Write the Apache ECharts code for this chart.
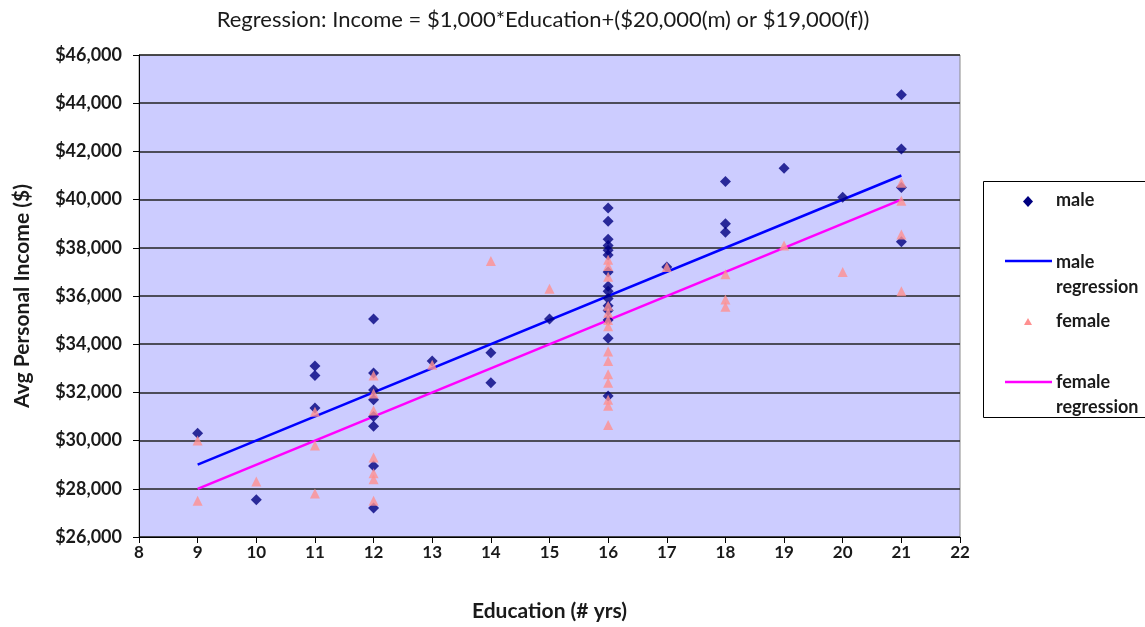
<!DOCTYPE html>
<html>
<head>
<meta charset="utf-8">
<script src="https://cdn.jsdelivr.net/npm/echarts@6/dist/echarts.min.js"></script>
<style>
html,body{margin:0;padding:0;background:#fff;}
#chart{width:1145px;height:627px;}
</style>
</head>
<body>
<div id="chart"></div>
<script>
// ---- data ----
var titleText = 'Regression: Income = $1,000*Education+($20,000(m) or $19,000(f))';
var xName = 'Education (# yrs)';
var yName = 'Avg Personal Income ($)';

var maleEdu = [9, 10, 11, 11, 11, 12, 12, 12, 12, 12, 12, 12, 12, 13, 14, 14, 15,
  16, 16, 16, 16, 16, 16, 16, 16, 16, 16, 16, 16, 16, 16, 16,
  17, 18, 18, 18, 19, 20, 21, 21, 21, 21];
var maleIncome = [30300, 27550, 33100, 32700, 31350, 35050, 32800, 32100, 31700, 31000, 30600, 28950, 27200, 33300, 33650, 32400, 35050,
  39650, 39100, 38350, 38100, 37900, 37700, 37000, 36400, 36200, 35900, 35600, 35400, 35000, 34250, 31850,
  37200, 40750, 39000, 38650, 41300, 40100, 44350, 42100, 40500, 38250];

var femaleEdu = [9, 9, 10, 11, 11, 11, 12, 12, 12, 12, 12, 12, 12, 13, 14, 15,
  16, 16, 16, 16, 16, 16, 16, 16, 16, 16, 16, 16, 16, 16,
  17, 18, 18, 18, 19, 20, 21, 21, 21, 21];
var femaleIncome = [30000, 27500, 28300, 31200, 29800, 27800, 32700, 31950, 31250, 29300, 28650, 28400, 27500, 33150, 37450, 36300,
  37500, 37250, 36800, 35600, 35300, 35000, 34750, 33700, 33300, 32750, 32400, 31700, 31450, 30650,
  37200, 36900, 35850, 35550, 38100, 37000, 40700, 39950, 38550, 36200];

var regEdu = [9, 21];
var maleReg = [29000, 41000];
var femaleReg = [28000, 40000];

var yTicks = [26000, 28000, 30000, 32000, 34000, 36000, 38000, 40000, 42000, 44000, 46000];
var xTicks = [8, 9, 10, 11, 12, 13, 14, 15, 16, 17, 18, 19, 20, 21, 22];

var legendLabels = ['male', 'male\nregression', 'female', 'female\nregression'];

// ---- build ----
function zip(a, b) { return a.map(function (v, i) { return [v, b[i]]; }); }
function fmtMoney(v) { return '$' + v.toLocaleString('en-US'); }

var FONT = 'Lato';
var TXT = '#1a1a1a';
var MALE = '#000080';
var FEMALE = '#ff9090';
var MALE_LINE = '#0000ff';
var FEMALE_LINE = '#ff00ff';

var chart = echarts.init(document.getElementById('chart'), null, {renderer: 'canvas'});

var legendFont = 'bold 18px ' + FONT;
var option = {
  animation: false,
  backgroundColor: '#ffffff',
  title: {
    text: titleText,
    left: 538, top: 4, textAlign: 'center',
    textStyle: {fontFamily: FONT, fontSize: 22, fontWeight: 'normal', color: TXT}
  },
  grid: {
    left: 139, top: 55, width: 821, height: 484,
    show: true, backgroundColor: '#ccccff', borderColor: '#8a8a8a', borderWidth: 1
  },
  xAxis: {
    type: 'value', min: xTicks[0], max: xTicks[xTicks.length - 1], interval: 1,
    name: xName, nameLocation: 'middle', nameGap: 64,
    nameTextStyle: {fontFamily: FONT, fontSize: 21, fontWeight: 'bold', color: TXT},
    axisLine: {show: true, onZero: false, lineStyle: {color: '#000', width: 1}},
    axisTick: {show: true, length: 6, lineStyle: {color: '#000'}},
    axisLabel: {margin: 7, fontFamily: FONT, fontSize: 17, fontWeight: 'bold', color: TXT},
    splitLine: {show: false}
  },
  yAxis: {
    type: 'value', min: yTicks[0], max: yTicks[yTicks.length - 1], interval: 2000,
    name: yName, nameLocation: 'middle', nameGap: 106, nameRotate: 90,
    nameTextStyle: {fontFamily: FONT, fontSize: 21, fontWeight: 'bold', color: TXT},
    axisLine: {show: true, onZero: false, lineStyle: {color: '#000', width: 1}},
    axisTick: {show: true, length: 6, lineStyle: {color: '#000'}},
    axisLabel: {margin: 17, fontFamily: FONT, fontSize: 18, fontWeight: 'bold', color: TXT, formatter: fmtMoney},
    splitLine: {show: true, lineStyle: {color: '#222', width: 1.5}}
  },
  series: [
    {
      name: 'male regression', type: 'line', z: 2,
      data: zip(regEdu, maleReg), symbol: 'none',
      lineStyle: {color: MALE_LINE, width: 2.5}
    },
    {
      name: 'female regression', type: 'line', z: 2,
      data: zip(regEdu, femaleReg), symbol: 'none',
      lineStyle: {color: FEMALE_LINE, width: 2.5}
    },
    {
      name: 'male', type: 'scatter', z: 3,
      data: zip(maleEdu, maleIncome), symbol: 'diamond', symbolSize: 11,
      itemStyle: {color: MALE}
    },
    {
      name: 'female', type: 'scatter', z: 4,
      data: zip(femaleEdu, femaleIncome), symbol: 'triangle', symbolSize: 10,
      itemStyle: {color: FEMALE}
    }
  ],
  graphic: {
    elements: [
      {type: 'rect', x: 983.5, y: 181.5, shape: {x: 0, y: 0, width: 170, height: 236},
        style: {fill: '#fff', stroke: '#000', lineWidth: 1}, z: 10},
      {type: 'polygon', z: 11, shape: {points: [[1028, 196], [1033, 201.5], [1028, 207], [1023, 201.5]]}, style: {fill: MALE}},
      {type: 'text', z: 11, x: 1056, y: 191, style: {text: legendLabels[0], font: legendFont, fill: TXT}},
      {type: 'line', z: 11, shape: {x1: 1005, y1: 261, x2: 1052, y2: 261}, style: {stroke: MALE_LINE, lineWidth: 2.5}},
      {type: 'text', z: 11, x: 1056, y: 250, style: {text: legendLabels[1], font: legendFont, fill: TXT, lineHeight: 25}},
      {type: 'polygon', z: 11, shape: {points: [[1028, 318], [1032, 325], [1024, 325]]}, style: {fill: FEMALE}},
      {type: 'text', z: 11, x: 1056, y: 312, style: {text: legendLabels[2], font: legendFont, fill: TXT}},
      {type: 'line', z: 11, shape: {x1: 1005, y1: 382, x2: 1052, y2: 382}, style: {stroke: FEMALE_LINE, lineWidth: 2.5}},
      {type: 'text', z: 11, x: 1056, y: 370, style: {text: legendLabels[3], font: legendFont, fill: TXT, lineHeight: 25}}
    ]
  }
};
chart.setOption(option);
</script>
</body>
</html>
